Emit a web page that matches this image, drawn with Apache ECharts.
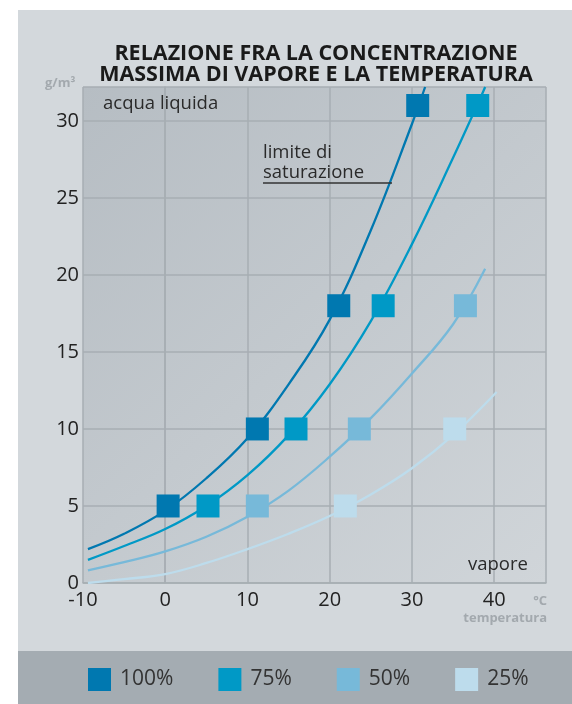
<!DOCTYPE html>
<html>
<head>
<meta charset="utf-8">
<script src="https://cdn.jsdelivr.net/npm/echarts@6/dist/echarts.min.js"></script>
<style>
html,body{margin:0;padding:0;background:#fff;}
#chart{width:572px;height:704px;}
</style>
</head>
<body>
<div id="chart"></div>
<script>
// Data
var seriesNames = ['100%', '75%', '50%', '25%'];
var xTicks = [-10, 0, 10, 20, 30, 40];
var yTicks = [0, 5, 10, 15, 20, 25, 30];

var curve100 = [[-9.4, 2.2], [-5, 3.2], [0, 4.7], [5, 6.8], [10, 9.4], [15, 12.9], [20, 17.1], [25, 22.9], [30, 29.8], [31.6, 32.2]];
var curve75 = [[-9.4, 1.5], [-5, 2.4], [0, 3.5], [5, 5.0], [10, 7.0], [15, 9.6], [20, 12.9], [25, 17.0], [30, 22.0], [35, 27.6], [38, 31.1], [38.9, 32.2]];
var curve50 = [[-9.4, 0.82], [-5, 1.35], [0, 2.05], [5, 3.0], [10, 4.3], [15, 6.0], [20, 8.2], [25, 10.7], [30, 13.6], [35, 16.8], [38.9, 20.4]];
var curve25 = [[-9.4, 0.0], [-5, 0.25], [0, 0.58], [5, 1.3], [10, 2.2], [15, 3.2], [20, 4.35], [25, 5.75], [30, 7.45], [35, 9.6], [40.3, 12.4]];

var marks100 = [[0.35, 5], [11.2, 10], [21.1, 18], [30.7, 31]];
var marks75 = [[5.2, 5], [15.9, 10], [26.5, 18], [38, 31]];
var marks50 = [[11.2, 5], [23.6, 10], [36.5, 18]];
var marks25 = [[21.9, 5], [35.2, 10]];

var colors = ['#0078b0', '#0099c6', '#77b9d9', '#bddcec'];
var curves = [curve100, curve75, curve50, curve25];
var marks = [marks100, marks75, marks50, marks25];

var FONT = '"Open Sans", "Noto Sans", sans-serif';
var chart = echarts.init(document.getElementById('chart'), null, {renderer: 'canvas'});

var series = [];
for (var i = 0; i < 4; i++) {
  series.push({
    name: 'curve' + seriesNames[i],
    type: 'line',
    data: curves[i],
    smooth: 0.4,
    showSymbol: false,
    symbol: 'none',
    clip: true,
    lineStyle: {color: colors[i], width: 2.3},
    z: 3 + (3 - i) * 0.1
  });
}
for (var j = 0; j < 4; j++) {
  series.push({
    name: seriesNames[j],
    type: 'scatter',
    data: marks[j],
    symbol: 'rect',
    symbolSize: 23,
    itemStyle: {color: colors[j], opacity: 1},
    z: 5
  });
}

var option = {
  animation: false,
  backgroundColor: '#ffffff',
  graphic: [
    {type: 'rect', shape: {x: 18, y: 10, width: 554, height: 641}, style: {fill: '#d3d8dc'}, z: -10, silent: true},
    {type: 'rect', shape: {x: 18, y: 651, width: 554, height: 53}, style: {fill: '#a4acb2'}, z: -10, silent: true},
    {type: 'text', left: 103, top: 94, style: {text: 'acqua liquida', font: '18.5px ' + FONT, fill: '#2a2a2a'}, z: 10},
    {type: 'text', left: 263, top: 143, style: {text: 'limite di\nsaturazione', font: '18.5px ' + FONT, lineHeight: 20, fill: '#2a2a2a'}, z: 10},
    {type: 'line', shape: {x1: 263, y1: 183, x2: 392, y2: 183}, style: {stroke: '#333333', lineWidth: 1.6}, z: 10},
    {type: 'text', left: 468, top: 555, style: {text: 'vapore', font: '18.5px ' + FONT, fill: '#2a2a2a'}, z: 10},
    {type: 'text', left: 45, top: 77, style: {text: 'g/m³', font: 'bold 13px ' + FONT, fill: '#a3a9ae'}, z: 10},
    {type: 'text', right: 25, top: 595, style: {text: '°C', font: 'bold 13px ' + FONT, fill: '#a3a9ae', textAlign: 'right'}, z: 10},
    {type: 'text', right: 25, top: 612, style: {text: 'temperatura', font: 'bold 13px ' + FONT, fill: '#a3a9ae', textAlign: 'right'}, z: 10}
  ],
  title: {
    text: 'RELAZIONE FRA LA CONCENTRAZIONE\nMASSIMA DI VAPORE E LA TEMPERATURA',
    left: 316,
    top: 43,
    textAlign: 'center',
    padding: 0,
    textStyle: {fontFamily: FONT, fontWeight: 'bold', fontSize: 21.5, lineHeight: 21, color: '#1a1a1a'}
  },
  legend: {
    data: seriesNames,
    left: 88,
    top: 668,
    icon: 'rect',
    itemWidth: 23,
    itemHeight: 23,
    itemGap: 45,
    padding: 0,
    textStyle: {fontFamily: FONT, fontSize: 21, color: '#333333', padding: [0, 0, 0, 4]}
  },
  grid: {
    left: 83, right: 26, top: 87, bottom: 121,
    show: true,
    borderWidth: 0,
    backgroundColor: {
      type: 'linear', x: 0, y: 0, x2: 1, y2: 1,
      colorStops: [{offset: 0, color: '#b6bdc3'}, {offset: 1, color: '#d0d5d9'}]
    }
  },
  xAxis: {
    type: 'value',
    min: -10, max: 46.3, interval: 10,
    axisLine: {show: true, lineStyle: {color: '#a7aeb3', width: 1.5}},
    axisTick: {show: false},
    splitLine: {show: true, lineStyle: {color: '#a7aeb3', width: 1.5}},
    axisLabel: {
      fontFamily: FONT, fontSize: 20, color: '#222222', margin: 7,
      formatter: function (v) { return xTicks.indexOf(v) >= 0 ? String(v) : ''; }
    }
  },
  yAxis: {
    type: 'value',
    min: 0, max: 32.2, interval: 5,
    axisLine: {show: true, lineStyle: {color: '#a7aeb3', width: 1.5}},
    axisTick: {show: false},
    splitLine: {show: true, lineStyle: {color: '#a7aeb3', width: 1.5}},
    axisLabel: {
      fontFamily: FONT, fontSize: 20, color: '#222222', margin: 4,
      formatter: function (v) { return yTicks.indexOf(v) >= 0 ? String(v) : ''; }
    }
  },
  series: series
};
chart.setOption(option);
</script>
</body>
</html>
